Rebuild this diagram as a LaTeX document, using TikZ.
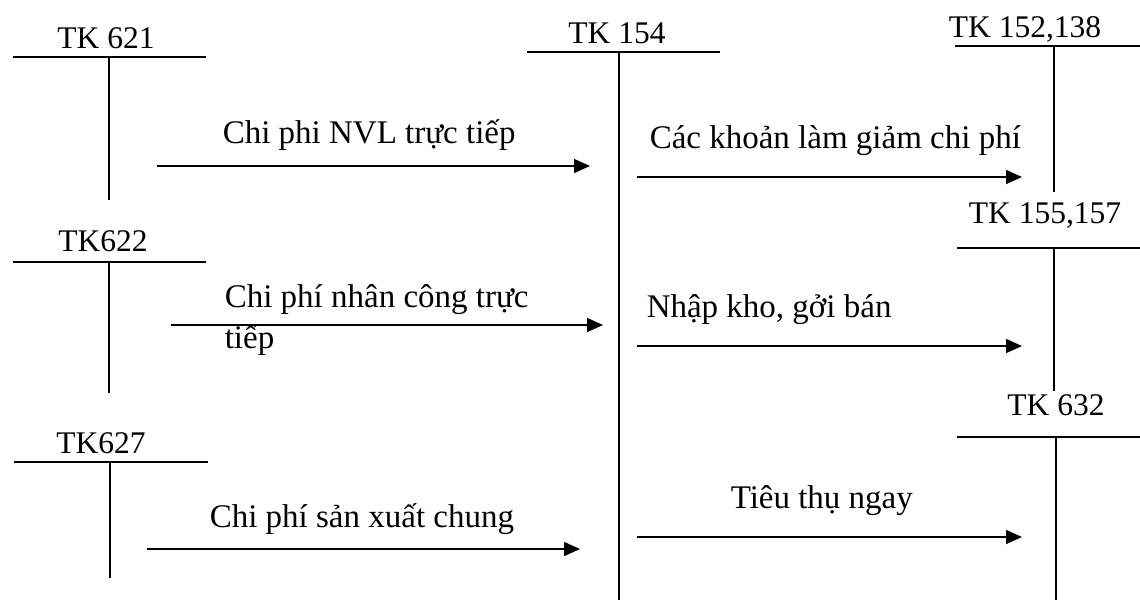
\documentclass[tikz,border=0pt]{standalone}
\usepackage{fontspec}
\setmainfont{Liberation Serif}
\usetikzlibrary{arrows.meta}
\begin{document}
\begin{tikzpicture}[x=1pt,y=-1pt,line width=1.5pt,
  acct/.style={anchor=base,inner sep=0pt,font=\fontsize{31.5}{36}\selectfont},
  lbl/.style={anchor=base west,inner sep=0pt,font=\fontsize{33}{41}\selectfont,align=left},
  flow/.style={-{Triangle[length=16pt,width=14pt]}}]
\useasboundingbox (0,0) rectangle (1140,600);

% ---- T-accounts: title, cross bar, stem ----
\node[acct] (t621) at (106,48) {TK 621};
\coordinate (t621L) at (13,57);  \coordinate (t621R) at (206,57);
\coordinate (t621T) at (109,57); \coordinate (t621B) at (109,200);
\draw (t621L) -- (t621R); \draw (t621T) -- (t621B);

\node[acct] (t622) at (103,251) {TK622};
\coordinate (t622L) at (13,262);  \coordinate (t622R) at (206,262);
\coordinate (t622T) at (109,262); \coordinate (t622B) at (109,393);
\draw (t622L) -- (t622R); \draw (t622T) -- (t622B);

\node[acct] (t627) at (101,453) {TK627};
\coordinate (t627L) at (14,462);  \coordinate (t627R) at (208,462);
\coordinate (t627T) at (110,462); \coordinate (t627B) at (110,578);
\draw (t627L) -- (t627R); \draw (t627T) -- (t627B);

\node[acct] (t154) at (617,43) {TK 154};
\coordinate (t154L) at (527,52);  \coordinate (t154R) at (720,52);
\coordinate (t154T) at (619,52);  \coordinate (t154B) at (619,600);
\draw (t154L) -- (t154R); \draw (t154T) -- (t154B);

\node[acct] (t152) at (1025,37) {TK 152,138};
\coordinate (t152L) at (955,46);  \coordinate (t152R) at (1140,46);
\coordinate (t152T) at (1054,46); \coordinate (t152B) at (1054,192);
\draw (t152L) -- (t152R); \draw (t152T) -- (t152B);

\node[acct] (t155) at (1045,223) {TK 155,157};
\coordinate (t155L) at (957,248);  \coordinate (t155R) at (1140,248);
\coordinate (t155T) at (1054,248); \coordinate (t155B) at (1054,391);
\draw (t155L) -- (t155R); \draw (t155T) -- (t155B);

\node[acct] (t632) at (1056,415) {TK 632};
\coordinate (t632L) at (957,437);  \coordinate (t632R) at (1140,437);
\coordinate (t632T) at (1056,437); \coordinate (t632B) at (1056,600);
\draw (t632L) -- (t632R); \draw (t632T) -- (t632B);

% ---- flows into TK 154 ----
\coordinate (f1s) at (157,166); \coordinate (f1e) at (590,166);
\draw[flow] (f1s) -- (f1e);
\node[lbl] (l1) at (222,143) {Chi phi NVL trực tiếp};

\coordinate (f2s) at (171,325); \coordinate (f2e) at (603,325);
\draw[flow] (f2s) -- (f2e);
% the base anchor of a two-line label sits on its last line
\node[lbl] (l2) at (224,348) {Chi phí nhân công trực\\tiếp};

\coordinate (f3s) at (147,549); \coordinate (f3e) at (580,549);
\draw[flow] (f3s) -- (f3e);
\node[lbl] (l3) at (209,527) {Chi phí sản xuất chung};

% ---- flows out of TK 154 ----
\coordinate (g1s) at (637,177); \coordinate (g1e) at (1022,177);
\draw[flow] (g1s) -- (g1e);
\node[lbl] (m1) at (649,148) {Các khoản làm giảm chi phí};

\coordinate (g2s) at (637,346); \coordinate (g2e) at (1022,346);
\draw[flow] (g2s) -- (g2e);
\node[lbl] (m2) at (646,317) {Nhập kho, gởi bán};

\coordinate (g3s) at (637,537); \coordinate (g3e) at (1022,537);
\draw[flow] (g3s) -- (g3e);
\node[lbl] (m3) at (730,508) {Tiêu thụ ngay};
\end{tikzpicture}
\end{document}
